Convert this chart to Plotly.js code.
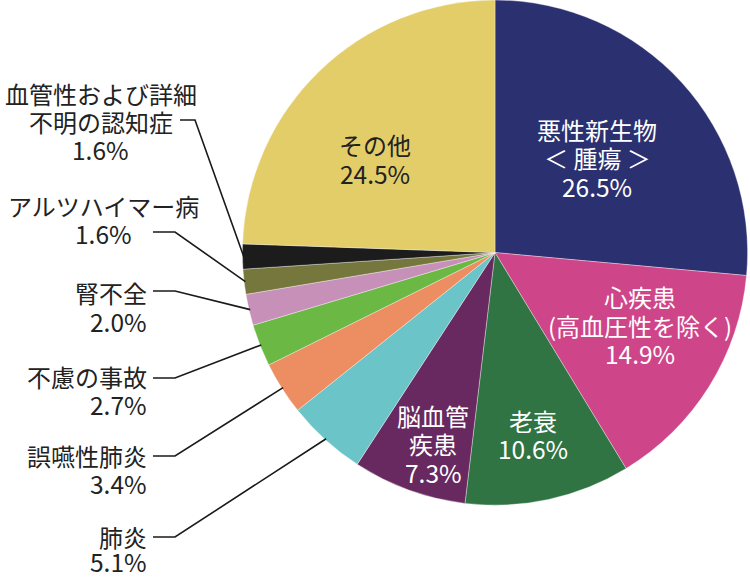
<!DOCTYPE html>
<html>
<head>
<meta charset="utf-8">
<script src="https://cdn.plot.ly/plotly-3.0.1.min.js"></script>
<style>html,body{margin:0;padding:0;background:#fff;}#chart{width:750px;height:578px;}</style>
</head>
<body>
<div id="chart"></div>
<script>
// ---- data ----
const categories = ['悪性新生物＜腫瘍＞', '心疾患（高血圧性を除く）', '老衰', '脳血管疾患', '肺炎', '誤嚥性肺炎', '不慮の事故', '腎不全', 'アルツハイマー病', '血管性および詳細不明の認知症', 'その他'];
const displayNames = ['悪性新生物|＜ 腫瘍 ＞', '心疾患|(高血圧性を除く)', '老衰', '脳血管|疾患', '肺炎', '誤嚥性肺炎', '不慮の事故', '腎不全', 'アルツハイマー病', '血管性および詳細|不明の認知症', 'その他'];
const values = [26.5, 14.9, 10.6, 7.3, 5.1, 3.4, 2.7, 2.0, 1.6, 1.6, 24.5];
const colors = ['#2b3070', '#cf4589', '#2f7442', '#67295f', '#6bc4c7', '#ec8e61', '#6cb844', '#c690b8', '#76773d', '#1c1c1c', '#e3cd69'];

// ---- layout config (positions/styles) ----
const W = 750, H = 578;
const domX = [0.3227, 0.9973], domY = [0.126, 1.0];
const FONT = '"Noto Sans CJK JP", "Noto Sans", sans-serif';
const FS = 24, FSNUM = 24.5;
// inside labels: center x and y of each line
const inside = {
  0: {x: 597, ys: [129, 158, 187], color: '#ffffff'},
  1: {x: 640, ys: [296, 325, 354], color: '#ffffff'},
  2: {x: 533, ys: [420, 448], color: '#ffffff'},
  3: {x: 433, ys: [415, 443, 472], color: '#ffffff'},
  10: {x: 375, ys: [145, 173], color: '#222222'}
};
// outside labels: text block position and leader elbow
const outside = {
  9: {x: 101, ys: [93, 121, 149], anchor: 'center', hx0: 180, hx1: 195, hy: 120},
  8: {x: 103, ys: [205, 233], anchor: 'center', hx0: 153, hx1: 175, hy: 232},
  7: {x: 148, ys: [292, 321], anchor: 'right', hx0: 153, hx1: 175, hy: 291},
  6: {x: 148, ys: [376, 404], anchor: 'right', hx0: 153, hx1: 175, hy: 378},
  5: {x: 148, ys: [455, 483], anchor: 'right', hx0: 153, hx1: 175, hy: 456},
  4: {x: 148, ys: [536, 561], anchor: 'right', hx0: 153, hx1: 175, hy: 537}
};
const px = x => x / W;
const py = y => 1 - y / H;

// pie geometry derived from domain
const cx = (domX[0] + domX[1]) / 2 * W;
const cy = (1 - (domY[0] + domY[1]) / 2) * H;
const R = Math.min((domX[1] - domX[0]) * W, (domY[1] - domY[0]) * H) / 2;
const total = values.reduce((a, b) => a + b, 0);
const midAngles = [];
let acc = 0;
values.forEach(v => { midAngles.push((acc + v / 2) / total * 2 * Math.PI); acc += v; });

const annotations = [];
const shapes = [];
function addLines(lines, cfg, color) {
  lines.forEach((t, k) => {
    const isNum = k === lines.length - 1;
    annotations.push({xref: 'paper', yref: 'paper', x: px(cfg.x), y: py(cfg.ys[k]),
      xanchor: cfg.anchor || 'center', yanchor: 'middle', showarrow: false, text: t, borderpad: 0,
      font: {family: FONT, size: isNum ? FSNUM : FS, color: color}});
  });
}
values.forEach((v, i) => {
  const lines = displayNames[i].split('|').concat([v.toFixed(1) + '%']);
  if (inside[i]) {
    addLines(lines, inside[i], inside[i].color);
  } else if (outside[i]) {
    const o = outside[i];
    addLines(lines, o, '#222222');
    const a = midAngles[i];
    const ex = cx + R * 0.995 * Math.sin(a), ey = cy - R * 0.995 * Math.cos(a);
    shapes.push({type: 'path', xref: 'paper', yref: 'paper',
      path: `M ${px(o.hx0)} ${py(o.hy)} L ${px(o.hx1)} ${py(o.hy)} L ${px(ex)} ${py(ey)}`,
      line: {color: '#1a1a1a', width: 1.6}});
  }
});

const trace = {
  type: 'pie', values: values, labels: categories, sort: false, direction: 'clockwise', rotation: 0,
  marker: {colors: colors, line: {color: 'rgba(255,255,255,0.6)', width: 0.6}},
  textinfo: 'none', hoverinfo: 'label+percent', domain: {x: domX, y: domY}, showlegend: false
};

const layout = {
  width: W, height: H, margin: {l: 0, r: 0, t: 0, b: 0},
  paper_bgcolor: '#ffffff', plot_bgcolor: '#ffffff',
  annotations: annotations, shapes: shapes, font: {family: FONT}
};
Plotly.newPlot('chart', [trace], layout, {displayModeBar: false, staticPlot: true});
</script>
</body>
</html>
